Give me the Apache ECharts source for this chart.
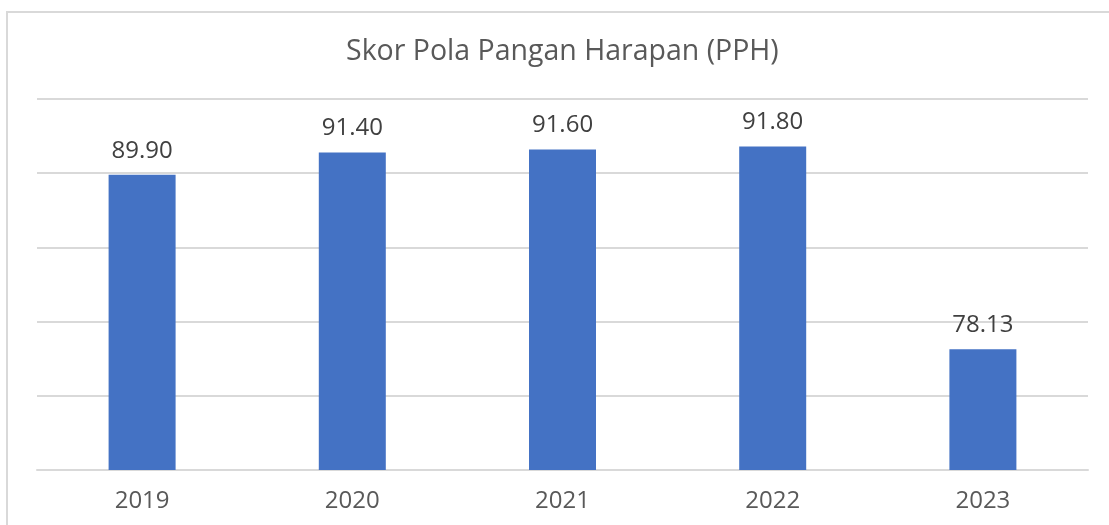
<!DOCTYPE html>
<html>
<head>
<meta charset="utf-8">
<script src="https://cdn.jsdelivr.net/npm/echarts@6/dist/echarts.min.js"></script>
<style>
  html, body { margin: 0; padding: 0; background: #ffffff; }
  #chart { width: 1109px; height: 525px; }
</style>
</head>
<body>
<div id="chart"></div>
<script>
// Skor PPH per tahun
const years = ['2019', '2020', '2021', '2022', '2023'];
const pphScores = [89.90, 91.40, 91.60, 91.80, 78.13];
const chartTitle = 'Skor Pola Pangan Harapan (PPH)';

const FONT = '"Open Sans", "Noto Sans", sans-serif';
const chart = echarts.init(document.getElementById('chart'), null, { renderer: 'canvas' });

chart.setOption({
  backgroundColor: '#ffffff',
  animation: false,
  title: {
    text: chartTitle,
    left: 341,
    top: 32,
    textStyle: { fontFamily: FONT, fontSize: 28.5, fontWeight: 'normal', color: '#595959' }
  },
  graphic: [{
    type: 'rect',
    shape: { x: 7, y: 12, width: 1300, height: 700 },
    style: { fill: 'none', stroke: '#d9d9d9', lineWidth: 2 },
    silent: true
  }],
  grid: { left: 37, right: 21, top: 99, bottom: 55 },
  xAxis: {
    type: 'category',
    data: years,
    axisLine: { lineStyle: { color: '#d9d9d9', width: 2 } },
    axisTick: { show: false },
    axisLabel: { fontFamily: FONT, fontSize: 24, color: '#595959', margin: 19 }
  },
  yAxis: {
    type: 'value',
    min: 70,
    max: 95,
    interval: 5,
    axisLabel: { show: false },
    axisLine: { show: false },
    axisTick: { show: false },
    splitLine: { lineStyle: { color: '#d9d9d9', width: 2 } }
  },
  series: [{
    type: 'bar',
    data: pphScores,
    barWidth: 67,
    itemStyle: { color: '#4472c4' },
    label: {
      show: true,
      position: 'top',
      distance: 12,
      formatter: p => p.value.toFixed(2),
      fontFamily: FONT,
      fontSize: 24,
      color: '#404040'
    }
  }]
});
</script>
</body>
</html>
